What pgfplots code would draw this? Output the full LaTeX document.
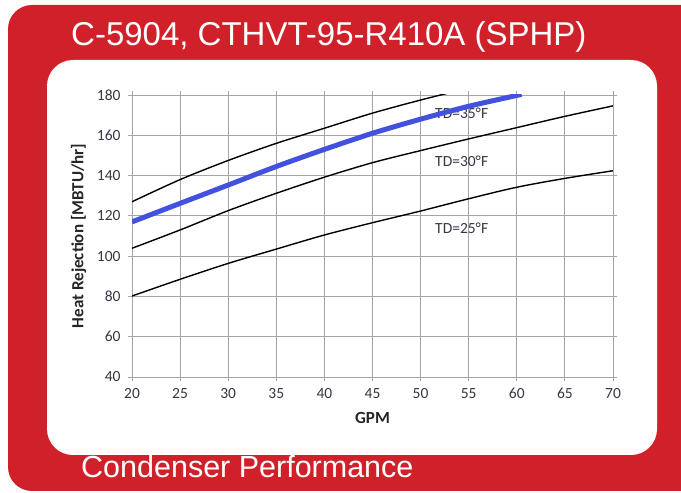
\documentclass[border=0pt]{standalone}
\usepackage{pgfplots}
\pgfplotsset{compat=1.18}
\usepackage{fontspec}
\setmainfont{Carlito}
\newfontfamily\arialfont{Liberation Sans}
\definecolor{redbg}{RGB}{208,33,42}
\definecolor{blueline}{RGB}{66,82,222}
\definecolor{txt}{RGB}{55,55,70}
\definecolor{gridc}{RGB}{165,165,165}
\begin{document}
\begin{tikzpicture}[x=1pt,y=1pt]
\useasboundingbox (0,0) rectangle (681,493);
\begin{scope}
\clip (0,0) rectangle (681,493);
\fill[redbg, rounded corners=24pt] (8,2) rectangle (705,488);
\end{scope}
\fill[white, rounded corners=26pt] (47,38) rectangle (657,433);
\node[anchor=base west, text=white, inner sep=0pt, font=\arialfont\fontsize{33}{33}\selectfont] at (71,447) {C-5904, CTHVT-95-R410A (SPHP)};
\node[anchor=base west, text=white, inner sep=0pt, font=\arialfont\fontsize{30.5}{30.5}\selectfont] at (81,15) {Condenser Performance};
\begin{axis}[
  at={(132pt,116pt)}, anchor=south west,
  scale only axis, width=481pt, height=282pt,
  xmin=20, xmax=70, ymin=40, ymax=180,
  xtick={20,25,...,70}, ytick={40,60,...,180},
  grid=major,
  major grid style={gridc, line width=0.9pt},
  axis line style={gridc, line width=0.9pt},
  tick style={gridc, line width=0.9pt},
  tick align=outside, major tick length=4pt,
  ticklabel style={font=\fontsize{15.5}{15.5}\selectfont, text=txt},
  yticklabel style={xshift=-4pt},
  xticklabel style={yshift=-4pt},
  /pgf/number format/assume math mode=true,
  xlabel={GPM}, ylabel={Heat Rejection [MBTU/hr]},
  label style={font=\bfseries\fontsize{17}{17}\selectfont, text=black!85},
  xlabel style={at={(axis description cs:0.5,-0.145)}, anchor=center},
  ylabel style={at={(axis description cs:-0.111,0.5)}, anchor=center},
  clip=true,
]
% TD=25
\addplot[black, line width=1.4pt, smooth] coordinates {
 (20,80.2) (25,88.5) (30,96.4) (35,103.5) (40,110.5) (45,116.6) (50,122.4) (55,128.5) (60,134.2) (65,138.6) (70,142.4)};
% TD=30
\addplot[black, line width=1.4pt, smooth] coordinates {
 (20,103.9) (25,113) (30,122.6) (35,131.2) (40,139.2) (45,146.4) (50,152.4) (55,158.2) (60,163.8) (65,169.4) (70,174.6)};
% TD=35
\addplot[black, line width=1.4pt, smooth] coordinates {
 (20,127) (25,138) (30,147.5) (35,156) (40,163.5) (45,171) (50,177.5) (55,183.5)};
\node[anchor=west, inner sep=0pt, text=txt, font=\fontsize{15.5}{15.5}\selectfont] at (axis cs:51.5,171) {TD=35°F};
\node[anchor=west, inner sep=0pt, text=txt, font=\fontsize{15.5}{15.5}\selectfont] at (axis cs:51.5,147.3) {TD=30°F};
\node[anchor=west, inner sep=0pt, text=txt, font=\fontsize{15.5}{15.5}\selectfont] at (axis cs:51.5,114) {TD=25°F};
% operating line
\addplot[blueline, line width=5pt, smooth] coordinates {
 (20,117) (25,126.2) (30,135.3) (35,144.5) (40,153) (45,161) (50,168) (55,174.4) (60.5,180.3)};
\end{axis}
\end{tikzpicture}
\end{document}
